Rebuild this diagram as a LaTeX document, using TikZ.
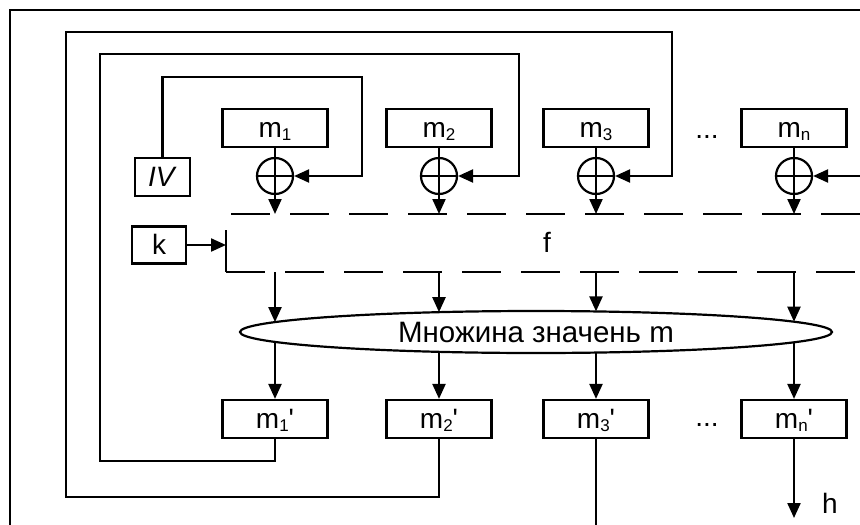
\documentclass[tikz,border=0pt]{standalone}
\usepackage{fontspec}
\setmainfont{Liberation Sans}
\usetikzlibrary{arrows.meta,shapes.geometric}
\newcommand\sbs[1]{\raisebox{-3.5pt}{\fontsize{17pt}{17pt}\selectfont #1}}
\newcommand\prm{\textquotesingle}
\begin{document}
\begin{tikzpicture}[x=1pt,y=-1pt,line width=2.2pt,
  txt/.style={font=\fontsize{28pt}{32pt}\selectfont},
  box/.style={draw,minimum width=105pt,minimum height=38pt,inner sep=0pt,txt,text height=21pt,text depth=3pt},
  xo/.style={draw,circle,minimum size=36pt,inner sep=0pt},
  arr/.style={-{Triangle[length=15pt,width=13pt]}},
  dsh/.style={dash pattern=on 38.5pt off 20.5pt}]
\useasboundingbox (0,0) rectangle (860,525);
\clip (0,0) rectangle (860,525);
% input blocks
\node[box] (m1) at (275,128) {m\sbs{1}};
\node[box] (m2) at (439,128) {m\sbs{2}};
\node[box] (m3) at (596,128) {m\sbs{3}};
\node[box] (mn) at (794,128) {m\sbs{n}};
\node[txt,anchor=base] (dots1) at (707,138) {...};
% xor circles
\node[xo] (x1) at (275,176) {};
\node[xo] (x2) at (439,176) {};
\node[xo] (x3) at (596,176) {};
\node[xo] (xn) at (794,176) {};
% IV and k
\node[box,minimum width=55pt,minimum height=38pt] (iv) at (162.5,177) {\textit{IV}};
\node[box,minimum width=54pt,minimum height=37pt] (k) at (159,245) {k};
% f block
\coordinate (dt) at (231,214);
\coordinate (dtr) at (880,214);
\coordinate (db) at (226,272);
\coordinate (dbr) at (880,272);
\coordinate (dv) at (226,230);
\draw[dsh] (dt) -- (dtr);
\draw[dsh] (db) -- (dbr);
\draw (dv) -- (db);
\draw[arr] (k.east) -- (k.east -| db);
\node[txt,anchor=base] (f) at (547,252) {f};
% xor wiring
\foreach \i in {1,2,3,n}{
  \draw (m\i.south) -- (x\i.south);
  \draw (x\i.west) -- (x\i.east);
  \draw[arr] (x\i.south) -- (x\i.south |- dt);
}
% ellipse
\node[draw,ellipse,minimum width=592pt,minimum height=42pt,inner sep=0pt,font=\fontsize{29.5pt}{33pt}\selectfont] (ell) at (536,332) {Множина значень m};
% output blocks
\node[box] (m1p) at (275,419) {m\sbs{1}\prm};
\node[box] (m2p) at (439,419) {m\sbs{2}\prm};
\node[box] (m3p) at (596,419) {m\sbs{3}\prm};
\node[box] (mnp) at (794,419) {m\sbs{n}\prm};
\node[txt,anchor=base] (dots2) at (707,426) {...};
% ellipse boundary points
\coordinate (e1t) at (275,322.1); \coordinate (e1b) at (275,341.9);
\coordinate (e2t) at (439,312.2); \coordinate (e2b) at (439,351.8);
\coordinate (e3t) at (596,311.4); \coordinate (e3b) at (596,352.6);
\coordinate (e4t) at (794,321.7); \coordinate (e4b) at (794,342.3);
\draw[arr] (x1.south |- db) -- (e1t);
\draw[arr] (x2.south |- db) -- (e2t);
\draw[arr] (x3.south |- db) -- (e3t);
\draw[arr] (xn.south |- db) -- (e4t);
\draw[arr] (e1b) -- (m1p.north);
\draw[arr] (e2b) -- (m2p.north);
\draw[arr] (e3b) -- (m3p.north);
\draw[arr] (e4b) -- (mnp.north);
% feedback loops
\coordinate (c0) at (362,77);
\draw[arr] (iv.north) |- (c0) |- (x1.east);
\coordinate (c1a) at (100,461);
\coordinate (c1b) at (519,54);
\draw[arr] (m1p.south) |- (c1a) |- (c1b) |- (x2.east);
\coordinate (c2a) at (66,497);
\coordinate (c2b) at (672,32);
\draw[arr] (m2p.south) |- (c2a) |- (c2b) |- (x3.east);
\coordinate (c3a) at (10,560);
\coordinate (c3b) at (900,10);
\draw[arr] (m3p.south) |- (c3a) |- (c3b) |- (xn.east);
% output h
\coordinate (hend) at (794,518);
\draw[arr] (mnp.south) -- (hend);
\node[txt,anchor=base] (h) at (830,513) {h};
\end{tikzpicture}
\end{document}
